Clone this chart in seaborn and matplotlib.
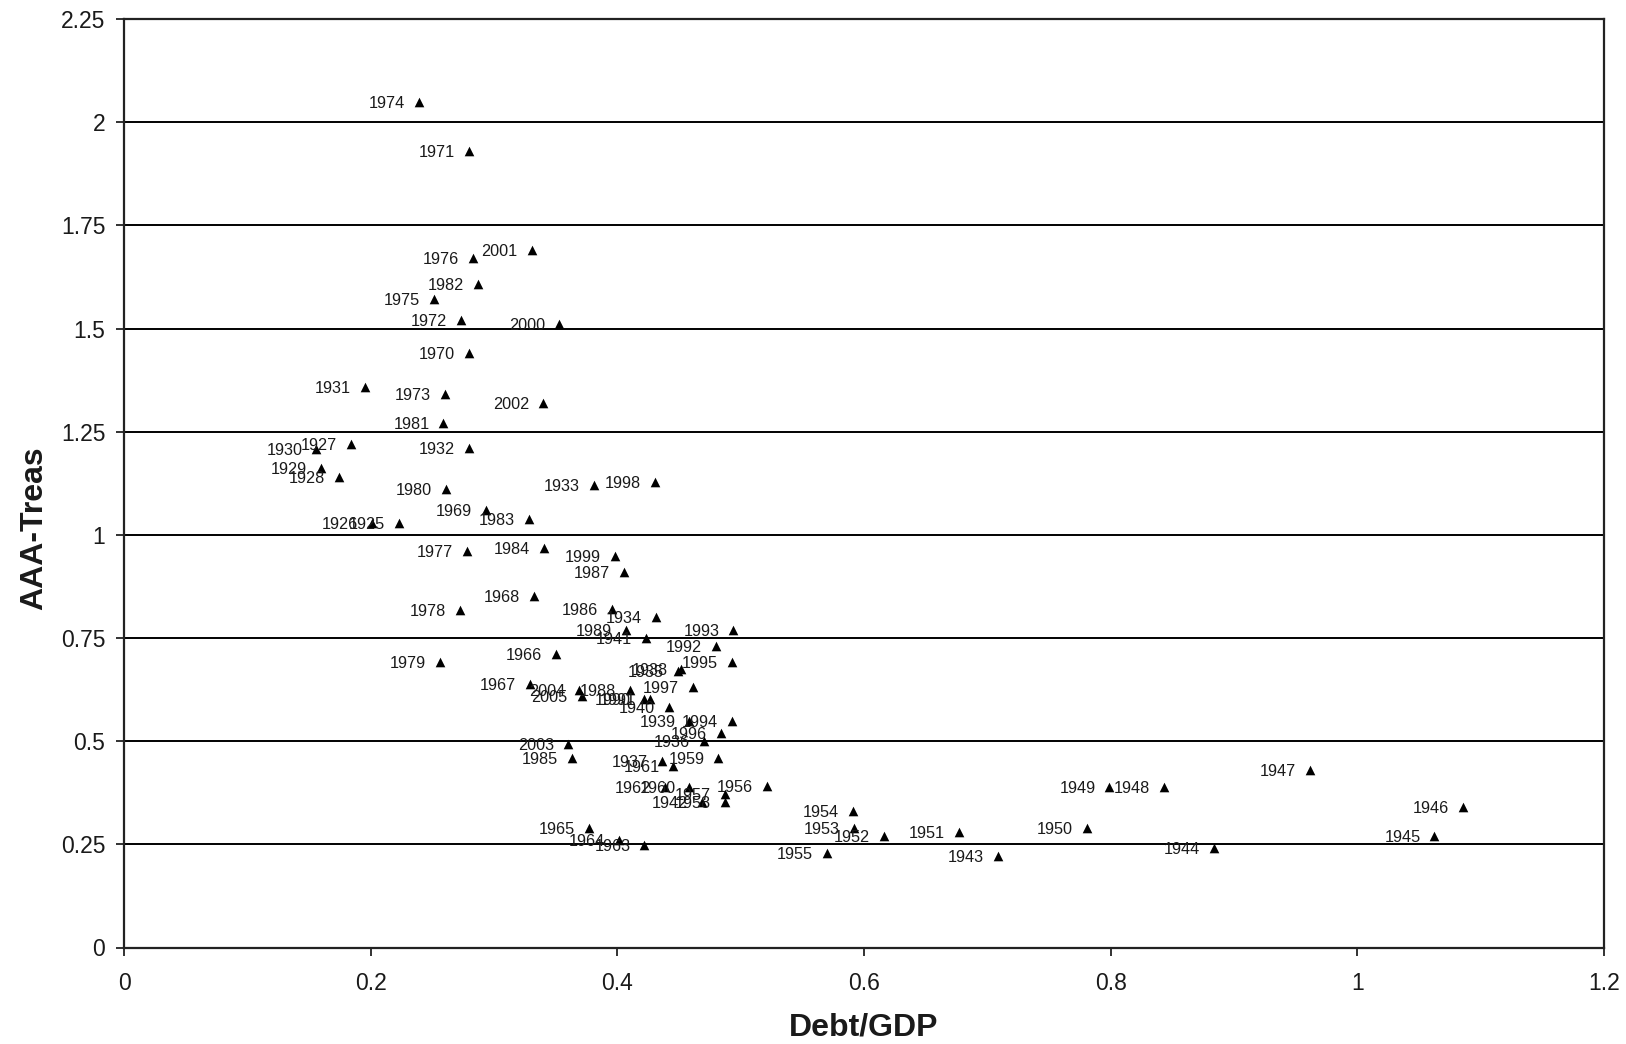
import matplotlib
matplotlib.use("Agg")
import matplotlib.pyplot as plt
import seaborn as sns
import pandas as pd

# ---- data ----
years = [1925, 1926, 1927, 1928, 1929, 1930, 1931, 1932, 1933, 1934,
         1935, 1936, 1937, 1938, 1939, 1940, 1941, 1942, 1943, 1944,
         1945, 1946, 1947, 1948, 1949, 1950, 1951, 1952, 1953, 1954,
         1955, 1956, 1957, 1958, 1959, 1960, 1961, 1962, 1963, 1964,
         1965, 1966, 1967, 1968, 1969, 1970, 1971, 1972, 1973, 1974,
         1975, 1976, 1977, 1978, 1979, 1980, 1981, 1982, 1983, 1984,
         1985, 1986, 1987, 1988, 1989, 1990, 1991, 1992, 1993, 1994,
         1995, 1996, 1997, 1998, 1999, 2000, 2001, 2002, 2003, 2004,
         2005]

debt_gdp = [0.223, 0.201, 0.184, 0.174, 0.1595, 0.156, 0.195, 0.280, 0.381, 0.4315,
            0.449, 0.470, 0.436, 0.452, 0.4585, 0.442, 0.423, 0.469, 0.7086, 0.8835,
            1.0625, 1.086, 0.962, 0.843, 0.799, 0.781, 0.677, 0.616, 0.592, 0.591,
            0.570, 0.521, 0.487, 0.487, 0.482, 0.4585, 0.4455, 0.439, 0.422, 0.401,
            0.377, 0.350, 0.329, 0.3325, 0.2936, 0.280, 0.2798, 0.2731, 0.2603, 0.2393,
            0.2514, 0.2833, 0.278, 0.2725, 0.256, 0.2609, 0.259, 0.2871, 0.3285, 0.3406,
            0.363, 0.3955, 0.405, 0.410, 0.407, 0.422, 0.4266, 0.480, 0.494, 0.493,
            0.493, 0.484, 0.461, 0.4307, 0.398, 0.353, 0.3306, 0.340, 0.360, 0.369,
            0.371]

aaa_treas = [1.029, 1.029, 1.219, 1.141, 1.163, 1.209, 1.358, 1.211, 1.120, 0.800,
             0.670, 0.500, 0.451, 0.674, 0.548, 0.582, 0.750, 0.352, 0.221, 0.241,
             0.270, 0.341, 0.430, 0.390, 0.390, 0.290, 0.281, 0.269, 0.290, 0.330,
             0.229, 0.391, 0.372, 0.352, 0.458, 0.390, 0.441, 0.390, 0.249, 0.261,
             0.290, 0.712, 0.639, 0.851, 1.061, 1.440, 1.929, 1.520, 1.342, 2.049,
             1.571, 1.670, 0.960, 0.819, 0.691, 1.110, 1.270, 1.609, 1.039, 0.968,
             0.458, 0.821, 0.909, 0.625, 0.770, 0.602, 0.602, 0.730, 0.770, 0.550,
             0.691, 0.520, 0.631, 1.128, 0.948, 1.510, 1.690, 1.320, 0.492, 0.625,
             0.610]

x_ticks = [0, 0.2, 0.4, 0.6, 0.8, 1, 1.2]
x_tick_labels = ["0", "0.2", "0.4", "0.6", "0.8", "1", "1.2"]
y_ticks = [0, 0.25, 0.5, 0.75, 1, 1.25, 1.5, 1.75, 2, 2.25]
y_tick_labels = ["0", "0.25", "0.5", "0.75", "1", "1.25", "1.5", "1.75", "2", "2.25"]

df = pd.DataFrame({"year": years, "Debt/GDP": debt_gdp, "AAA-Treas": aaa_treas})

sns.set_theme(style="white")
plt.rcParams["font.family"] = ["Liberation Sans", "DejaVu Sans"]

fig = plt.figure(figsize=(16.26, 10.44), dpi=100)
ax = fig.add_axes([124 / 1626, 1 - 947.5 / 1044, 1480 / 1626, 928.5 / 1044])

sns.scatterplot(data=df, x="Debt/GDP", y="AAA-Treas", marker="^", color="black",
                s=48, linewidth=0, ax=ax, zorder=3)

for yr, xv, yv in zip(df["year"], df["Debt/GDP"], df["AAA-Treas"]):
    ax.annotate(str(yr), (xv, yv), xytext=(-14, 0), textcoords="offset pixels",
                ha="right", va="center_baseline", fontsize=11.7, color="#1a1a1a",
                zorder=4)

ax.set_xlim(0, 1.2)
ax.set_ylim(0, 2.25)
ax.set_xticks(x_ticks)
ax.set_xticklabels(x_tick_labels)
ax.set_yticks(y_ticks)
ax.set_yticklabels(y_tick_labels)

ax.yaxis.grid(True, color="black", linewidth=1.4)
ax.xaxis.grid(False)
ax.set_axisbelow(True)

for sp in ax.spines.values():
    sp.set_visible(True)
    sp.set_color("#222222")
    sp.set_linewidth(1.6)

ax.tick_params(axis="both", which="major", direction="out", length=6, width=1.3,
               color="#222222", labelsize=16.5, labelcolor="#1a1a1a")
ax.tick_params(axis="x", pad=12, bottom=True)
ax.tick_params(axis="y", pad=7.5, left=True)

ax.set_xlabel("Debt/GDP", fontsize=23, fontweight="bold", color="#1a1a1a", va="center")
ax.set_ylabel("AAA-Treas", fontsize=23, fontweight="bold", color="#1a1a1a", va="center")
ax.xaxis.set_label_coords(0.5, -0.086)
ax.yaxis.set_label_coords(-0.061, 0.4515)

fig.savefig("out.png", dpi=100)
